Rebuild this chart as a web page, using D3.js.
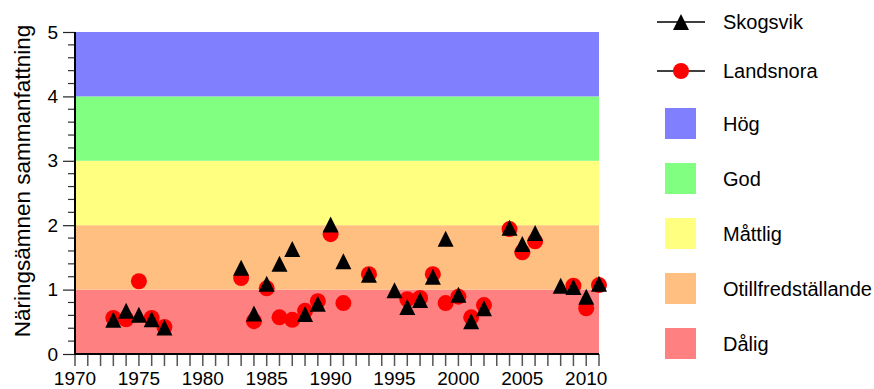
<!DOCTYPE html>
<html>
<head>
<meta charset="utf-8">
<script src="https://cdn.jsdelivr.net/npm/d3@7"></script>
<style>
  html, body { margin: 0; padding: 0; background: #fff; }
  svg { display: block; font-family: "Liberation Sans", Arial, sans-serif; }
</style>
</head>
<body>
<svg id="chart" width="874" height="389"></svg>
<script>
// Nutrient summary index per year for two stations
const years = [1973, 1974, 1975, 1976, 1977, 1983, 1984, 1985, 1986, 1987, 1988, 1989, 1990, 1991,
               1993, 1995, 1996, 1997, 1998, 1999, 2000, 2001, 2002, 2004, 2005, 2006, 2008, 2009, 2010, 2011];
const skogsvik = [0.53, 0.67, 0.61, 0.54, 0.41, 1.34, 0.63, 1.09, 1.40, 1.63, 0.62, 0.78, 2.01, 1.44,
                  1.23, 0.99, 0.73, 0.84, 1.20, 1.79, 0.92, 0.51, 0.71, 1.96, 1.71, 1.88, 1.06, 1.04, 0.89, 1.09];
const landsnora = [0.56, 0.54, 1.13, 0.56, 0.42, 1.18, 0.51, 1.02, 0.57, 0.53, 0.67, 0.82, 1.86, 0.79,
                   1.24, null, 0.85, 0.87, 1.24, 0.79, 0.89, 0.57, 0.76, 1.94, 1.58, 1.75, null, 1.06, 0.71, 1.07];

// Status classes, lowest first, each spanning one unit on the index
const classes = ["Dålig", "Otillfredställande", "Måttlig", "God", "Hög"];
const classLower = [0, 1, 2, 3, 4];
const classUpper = [1, 2, 3, 4, 5];
const classColors = ["#FF8080", "#FFBF80", "#FFFF80", "#80FF80", "#8080FF"];

const seriesNames = ["Skogsvik", "Landsnora"];
const yTicks = [0, 1, 2, 3, 4, 5];
const xTicks = [1970, 1975, 1980, 1985, 1990, 1995, 2000, 2005, 2010];
const yTitle = "Näringsämnen sammanfattning";

const svg = d3.select("#chart");
const x = d3.scaleLinear().domain([1970, 2011]).range([75, 599]);
const y = d3.scaleLinear().domain([0, 5]).range([354, 32]);

// Class bands
svg.append("g").selectAll("rect")
  .data(classes)
  .join("rect")
  .attr("x", x(1970))
  .attr("width", x(2011) - x(1970))
  .attr("y", (d, i) => y(classUpper[i]))
  .attr("height", (d, i) => y(classLower[i]) - y(classUpper[i]))
  .attr("fill", (d, i) => classColors[i]);

// Y axis with minor ticks
const yMinor = d3.range(0, 5.001, 0.2).filter(v => Math.abs(v - Math.round(v)) > 1e-6);
const yAxisG = svg.append("g").attr("transform", `translate(${x(1970)},0)`);
yAxisG.selectAll("line.minor").data(yMinor).join("line")
  .attr("class", "minor")
  .attr("x1", -7).attr("x2", 0)
  .attr("y1", d => y(d)).attr("y2", d => y(d))
  .attr("stroke", "#333").attr("stroke-width", 1.2);
const yAxis = d3.axisLeft(y).tickValues(yTicks).tickFormat(d3.format("d")).tickSize(12).tickPadding(5);
yAxisG.call(yAxis);
yAxisG.select(".domain").remove();
yAxisG.selectAll(".tick line").attr("stroke", "#222").attr("stroke-width", 1.2);
yAxisG.selectAll(".tick text").attr("font-size", 19).attr("fill", "#000")
  .attr("font-family", "'Liberation Sans', Arial, sans-serif");

// X axis: a tick per year, labels every five years
const xAxisG = svg.append("g").attr("transform", `translate(0,${y(0)})`);
const allYears = d3.range(1970, 2012);
xAxisG.selectAll("line.yr").data(allYears).join("line")
  .attr("class", "yr")
  .attr("x1", d => x(d)).attr("x2", d => x(d))
  .attr("y1", 0).attr("y2", 12)
  .attr("stroke", "#555").attr("stroke-width", 1.5);
xAxisG.selectAll("text").data(xTicks).join("text")
  .attr("x", d => x(d)).attr("y", 31)
  .attr("text-anchor", "middle")
  .attr("font-size", 19)
  .attr("fill", "#000")
  .text(d => d);

// Axis lines
svg.append("line")
  .attr("x1", x(1970)).attr("x2", x(1970))
  .attr("y1", y(5)).attr("y2", y(0) + 1)
  .attr("stroke", "#000").attr("stroke-width", 2);
svg.append("line")
  .attr("x1", x(1970) - 1).attr("x2", x(2011))
  .attr("y1", y(0)).attr("y2", y(0))
  .attr("stroke", "#000").attr("stroke-width", 2);

// Y title
svg.append("text")
  .attr("transform", `translate(30,181) rotate(-90)`)
  .attr("text-anchor", "middle")
  .attr("font-size", 22.5)
  .attr("fill", "#000")
  .text(yTitle);

const triPath = (cx, cy, s) => `M${cx - s},${cy + s}L${cx + s},${cy + s}L${cx},${cy - s}Z`;

// Landsnora circles (drawn under the triangles)
const landPts = years.map((yr, i) => ({ yr, v: landsnora[i] })).filter(d => d.v !== null);
svg.append("g").selectAll("circle").data(landPts).join("circle")
  .attr("cx", d => x(d.yr)).attr("cy", d => y(d.v)).attr("r", 8)
  .attr("fill", "#FF0000");

// Skogsvik triangles
const skogPts = years.map((yr, i) => ({ yr, v: skogsvik[i] })).filter(d => d.v !== null);
svg.append("g").selectAll("path").data(skogPts).join("path")
  .attr("d", d => triPath(x(d.yr), y(d.v), 8))
  .attr("fill", "#000");

// Legend
const lg = svg.append("g");
const lx = 681;
const serY = [22, 71];
seriesNames.forEach((name, i) => {
  lg.append("line").attr("x1", lx - 24).attr("x2", lx + 24)
    .attr("y1", serY[i]).attr("y2", serY[i])
    .attr("stroke", "#000").attr("stroke-width", 1.5);
  if (i === 0) {
    lg.append("path").attr("d", triPath(lx, serY[i], 8)).attr("fill", "#000");
  } else {
    lg.append("circle").attr("cx", lx).attr("cy", serY[i]).attr("r", 8).attr("fill", "#FF0000");
  }
  lg.append("text").attr("x", 723).attr("y", serY[i]).attr("dy", "0.35em")
    .attr("font-size", 20).attr("fill", "#000").text(name);
});
const legendOrder = classes.map((c, i) => i).reverse();
legendOrder.forEach((ci, k) => {
  const top = 108 + k * 55;
  lg.append("rect").attr("x", 665).attr("y", top).attr("width", 31).attr("height", 31)
    .attr("fill", classColors[ci]);
  lg.append("text").attr("x", 723).attr("y", top + 15.5).attr("dy", "0.35em")
    .attr("font-size", 20).attr("fill", "#000").text(classes[ci]);
});
</script>
</body>
</html>
